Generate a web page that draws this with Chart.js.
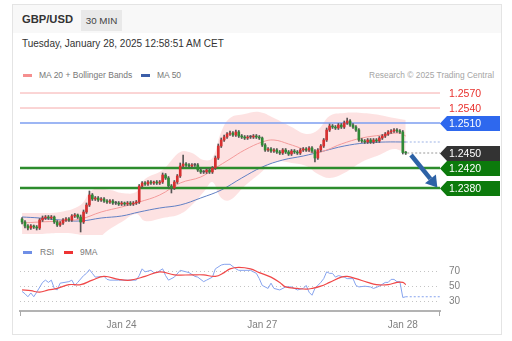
<!DOCTYPE html>
<html>
<head>
<meta charset="utf-8">
<script src="https://cdn.jsdelivr.net/npm/chart.js@4.4.1/dist/chart.umd.min.js"></script>
<style>
  html, body { margin: 0; padding: 0; background: #fff; }
  body { width: 512px; height: 341px; position: relative; overflow: hidden; font-family: "Liberation Sans", Arial, sans-serif; }
  .abs { position: absolute; white-space: nowrap; }
  .card { left: 12px; top: 4px; width: 490px; height: 331px; border: 1px solid #e4e4e4; box-sizing: border-box; }
  .head { left: 13px; top: 5px; width: 488px; height: 28px; background: #f8f8f8; }
  .pair { left: 22px; top: 13px; font-size: 11.2px; line-height: 13px; font-weight: bold; color: #333; }
  .tf { left: 81px; top: 10px; width: 41px; height: 21px; line-height: 21px; background: #e9e9e9; color: #444; font-size: 9.8px; text-align: center; }
  .date { left: 22px; top: 38px; font-size: 10px; line-height: 12px; color: #333; }
  .sw { height: 3px; width: 9px; }
  .lg { font-size: 8.5px; line-height: 11px; color: #777; }
  .src { right: 18px; top: 70px; font-size: 8.4px; line-height: 11px; color: #a5a5a5; }
  canvas { position: absolute; left: 0; top: 0; }
</style>
</head>
<body>
<div class="abs card"></div>
<div class="abs head"></div>
<div class="abs pair">GBP/USD</div>
<div class="abs tf">30 MIN</div>
<div class="abs date">Tuesday, January 28, 2025 12:58:51 AM CET</div>

<div class="abs sw" style="left:23px;top:74px;background:#f58f8f"></div>
<div class="abs lg" style="left:39px;top:70px">MA 20 + Bollinger Bands</div>
<div class="abs sw" style="left:141px;top:74px;background:#3b5ea8"></div>
<div class="abs lg" style="left:157px;top:70px">MA 50</div>
<div class="abs src">Research © 2025 Trading Central</div>

<div class="abs sw" style="left:23px;top:251px;background:#6f8fe6"></div>
<div class="abs lg" style="left:40px;top:247px">RSI</div>
<div class="abs sw" style="left:64px;top:251px;background:#ee3333"></div>
<div class="abs lg" style="left:80px;top:247px">9MA</div>

<canvas id="price" width="512" height="341"></canvas>
<canvas id="rsi" width="512" height="341"></canvas>

<script>
// 30 min candles, index 0 = first bar on the left
const opens = [
  1.2318, 1.2312, 1.2304, 1.2300, 1.2304, 1.2302, 1.2300, 1.2316, 1.2320, 1.2322,
  1.2320, 1.2322, 1.2312, 1.2306, 1.2310, 1.2316, 1.2318, 1.2316, 1.2324, 1.2326,
  1.2322, 1.2312, 1.2332, 1.2346, 1.2366, 1.2358, 1.2360, 1.2356, 1.2358, 1.2354,
  1.2352, 1.2354, 1.2350, 1.2350, 1.2348, 1.2350, 1.2348, 1.2350, 1.2348, 1.2350,
  1.2352, 1.2384, 1.2390, 1.2388, 1.2392, 1.2390, 1.2392, 1.2390, 1.2392, 1.2406,
  1.2400, 1.2384, 1.2380, 1.2392, 1.2404, 1.2424, 1.2428, 1.2426, 1.2424, 1.2426,
  1.2426, 1.2416, 1.2412, 1.2412, 1.2416, 1.2412, 1.2420, 1.2440, 1.2464, 1.2476,
  1.2482, 1.2488, 1.2490, 1.2486, 1.2492, 1.2484, 1.2482, 1.2480, 1.2482, 1.2482,
  1.2484, 1.2482, 1.2480, 1.2466, 1.2456, 1.2458, 1.2454, 1.2456, 1.2452, 1.2450,
  1.2456, 1.2452, 1.2448, 1.2454, 1.2452, 1.2450, 1.2456, 1.2458, 1.2456, 1.2460,
  1.2454, 1.2440, 1.2456, 1.2464, 1.2476, 1.2496, 1.2504, 1.2502, 1.2500, 1.2506,
  1.2502, 1.2510, 1.2514, 1.2506, 1.2502, 1.2496, 1.2476, 1.2474, 1.2472, 1.2476,
  1.2472, 1.2476, 1.2474, 1.2480, 1.2484, 1.2488, 1.2492, 1.2494, 1.2496, 1.2494,
  1.2492, 1.2451
];
const highs = [
  1.2321, 1.2315, 1.2307, 1.2307, 1.2306, 1.2305, 1.2319, 1.2324, 1.2325, 1.2325,
  1.2325, 1.2324, 1.2315, 1.2313, 1.2319, 1.2321, 1.2321, 1.2327, 1.2329, 1.2328,
  1.2326, 1.2336, 1.2350, 1.2374, 1.2369, 1.2363, 1.2363, 1.2361, 1.2361, 1.2357,
  1.2357, 1.2357, 1.2353, 1.2353, 1.2353, 1.2352, 1.2353, 1.2353, 1.2353, 1.2355,
  1.2387, 1.2393, 1.2393, 1.2395, 1.2395, 1.2394, 1.2395, 1.2395, 1.2410, 1.2409,
  1.2403, 1.2387, 1.2395, 1.2407, 1.2430, 1.2446, 1.2431, 1.2429, 1.2429, 1.2429,
  1.2429, 1.2419, 1.2415, 1.2419, 1.2419, 1.2423, 1.2444, 1.2468, 1.2480, 1.2486,
  1.2491, 1.2494, 1.2493, 1.2496, 1.2495, 1.2487, 1.2485, 1.2485, 1.2485, 1.2487,
  1.2487, 1.2485, 1.2482, 1.2469, 1.2461, 1.2461, 1.2459, 1.2459, 1.2455, 1.2459,
  1.2459, 1.2455, 1.2457, 1.2457, 1.2455, 1.2459, 1.2461, 1.2461, 1.2463, 1.2463,
  1.2457, 1.2459, 1.2467, 1.2479, 1.2500, 1.2508, 1.2507, 1.2505, 1.2509, 1.2509,
  1.2514, 1.2520, 1.2517, 1.2509, 1.2505, 1.2499, 1.2479, 1.2477, 1.2479, 1.2479,
  1.2479, 1.2479, 1.2483, 1.2487, 1.2491, 1.2495, 1.2497, 1.2499, 1.2499, 1.2497,
  1.2495, 1.2453
];
const lows = [
  1.2308, 1.2300, 1.2296, 1.2297, 1.2299, 1.2296, 1.2297, 1.2313, 1.2317, 1.2317,
  1.2317, 1.2309, 1.2303, 1.2303, 1.2307, 1.2313, 1.2313, 1.2313, 1.2321, 1.2319,
  1.2292, 1.2309, 1.2329, 1.2343, 1.2355, 1.2355, 1.2353, 1.2353, 1.2351, 1.2349,
  1.2349, 1.2347, 1.2347, 1.2345, 1.2345, 1.2345, 1.2345, 1.2345, 1.2345, 1.2347,
  1.2349, 1.2381, 1.2385, 1.2385, 1.2387, 1.2387, 1.2387, 1.2387, 1.2389, 1.2397,
  1.2381, 1.2370, 1.2377, 1.2389, 1.2401, 1.2421, 1.2423, 1.2421, 1.2421, 1.2423,
  1.2413, 1.2409, 1.2409, 1.2409, 1.2409, 1.2409, 1.2417, 1.2437, 1.2461, 1.2473,
  1.2479, 1.2485, 1.2483, 1.2483, 1.2481, 1.2479, 1.2477, 1.2477, 1.2479, 1.2479,
  1.2479, 1.2477, 1.2463, 1.2453, 1.2453, 1.2451, 1.2451, 1.2449, 1.2447, 1.2447,
  1.2449, 1.2445, 1.2445, 1.2449, 1.2447, 1.2447, 1.2453, 1.2453, 1.2453, 1.2451,
  1.2432, 1.2437, 1.2453, 1.2461, 1.2473, 1.2493, 1.2499, 1.2497, 1.2497, 1.2499,
  1.2499, 1.2507, 1.2503, 1.2499, 1.2493, 1.2473, 1.2471, 1.2469, 1.2469, 1.2469,
  1.2469, 1.2471, 1.2471, 1.2477, 1.2481, 1.2485, 1.2489, 1.2491, 1.2491, 1.2489,
  1.2448, 1.2447
];
const closes = [
  1.2312, 1.2304, 1.2300, 1.2304, 1.2302, 1.2300, 1.2316, 1.2320, 1.2322, 1.2320,
  1.2322, 1.2312, 1.2306, 1.2310, 1.2316, 1.2318, 1.2316, 1.2324, 1.2326, 1.2322,
  1.2312, 1.2332, 1.2346, 1.2366, 1.2358, 1.2360, 1.2356, 1.2358, 1.2354, 1.2352,
  1.2354, 1.2350, 1.2350, 1.2348, 1.2350, 1.2348, 1.2350, 1.2348, 1.2350, 1.2352,
  1.2384, 1.2390, 1.2388, 1.2392, 1.2390, 1.2392, 1.2390, 1.2392, 1.2406, 1.2400,
  1.2384, 1.2380, 1.2392, 1.2404, 1.2424, 1.2428, 1.2426, 1.2424, 1.2426, 1.2426,
  1.2416, 1.2412, 1.2412, 1.2416, 1.2412, 1.2420, 1.2440, 1.2464, 1.2476, 1.2482,
  1.2488, 1.2490, 1.2486, 1.2492, 1.2484, 1.2482, 1.2480, 1.2482, 1.2482, 1.2484,
  1.2482, 1.2480, 1.2466, 1.2456, 1.2458, 1.2454, 1.2456, 1.2452, 1.2450, 1.2456,
  1.2452, 1.2448, 1.2454, 1.2452, 1.2450, 1.2456, 1.2458, 1.2456, 1.2460, 1.2454,
  1.2440, 1.2456, 1.2464, 1.2476, 1.2496, 1.2504, 1.2502, 1.2500, 1.2506, 1.2502,
  1.2510, 1.2514, 1.2506, 1.2502, 1.2496, 1.2476, 1.2474, 1.2472, 1.2476, 1.2472,
  1.2476, 1.2474, 1.2480, 1.2484, 1.2488, 1.2492, 1.2494, 1.2496, 1.2494, 1.2492,
  1.2451, 1.2450
];

// moving averages and bands, read at a few bar positions
const ma20Idx = [0, 6, 13, 20, 27, 34, 40, 47, 54, 61, 66, 71, 76, 82, 86, 91, 96, 100, 104, 109, 116, 123, 129, 131];
const ma20Val = [1.2310, 1.2312, 1.2314, 1.2318, 1.2332, 1.2342, 1.2352, 1.2366, 1.2390, 1.2402, 1.2420, 1.2438,
  1.2456, 1.2472, 1.2476, 1.2468, 1.2458, 1.2450, 1.2456, 1.2468, 1.2480, 1.2486, 1.2490, 1.2484];
const ma50Idx = [0, 6, 13, 20, 27, 34, 40, 47, 54, 61, 68, 75, 82, 89, 96, 103, 110, 117, 124, 131];
const ma50Val = [1.2322, 1.2320, 1.2316, 1.2314, 1.2320, 1.2324, 1.2332, 1.2340, 1.2346, 1.2360, 1.2376, 1.2400,
  1.2422, 1.2436, 1.2444, 1.2454, 1.2464, 1.2470, 1.2472, 1.2472];
const bandIdx = [0, 6, 13, 20, 24, 30, 34, 39, 42, 48, 54, 58, 62, 65, 68, 71, 76, 81, 86, 92, 97, 101, 105, 110, 116, 122, 127, 131];
const bandUpper = [1.2330, 1.2330, 1.2332, 1.2346, 1.2376, 1.2376, 1.2370, 1.2372, 1.2398, 1.2416, 1.2452, 1.2450,
  1.2436, 1.2440, 1.2492, 1.2520, 1.2528, 1.2532, 1.2520, 1.2502, 1.2488, 1.2496, 1.2524, 1.2530, 1.2530, 1.2526, 1.2520, 1.2516];
const bandLower = [1.2288, 1.2288, 1.2290, 1.2286, 1.2274, 1.2298, 1.2312, 1.2328, 1.2314, 1.2320, 1.2328, 1.2346,
  1.2372, 1.2392, 1.2360, 1.2356, 1.2384, 1.2408, 1.2432, 1.2430, 1.2424, 1.2408, 1.2400, 1.2410, 1.2432, 1.2446, 1.2458, 1.2450];
const ma50Last = 1.2472;

// key levels on the right
const levels = [1.2570, 1.2540, 1.2510, 1.2450, 1.2420, 1.2380];
const lastPrice = 1.2450;
// projected move (bar index, price)
const arrowIdx = [132.8, 141.8];
const arrowPrice = [1.2446, 1.2381];

// RSI panel
const rsiIdx = [0, 1, 2, 3, 4, 5, 7, 8, 9, 10, 11, 12, 13, 16, 17, 18, 19, 21, 22, 23, 24, 25, 28, 29, 30, 33, 36, 39, 40, 41, 42,
  44, 45, 46, 48, 49, 50, 52, 54, 56, 57, 59, 60, 62, 63, 65, 66, 68, 69, 71, 73, 74, 78, 80, 81, 82, 84, 85, 86, 88, 90,
  92, 94, 96, 97, 98, 99, 100, 102, 103, 104, 105, 106, 107, 108, 110, 111, 113, 114, 115, 117, 119, 120, 122, 124, 125,
  126, 127, 128, 129, 130, 131];
const rsiVal = [43, 40, 36, 41, 36, 42, 55, 58, 55, 58, 47, 45, 54, 56, 58, 51, 55, 64, 67, 72, 67, 62, 63, 59, 58, 58, 58, 58, 64, 73, 69,
  71, 68, 68, 73, 64, 58, 62, 71, 69, 68, 63, 62, 56, 58, 62, 73, 78, 79, 79, 73, 71, 71, 67, 60, 51, 47, 54, 47, 45, 49,
  49, 45, 47, 51, 42, 38, 47, 55, 60, 69, 67, 67, 62, 64, 62, 60, 60, 51, 49, 50, 49, 47, 50, 55, 55,
  59, 59, 56, 56, 35, 36];
const ma9Idx = [0, 3, 6, 9, 12, 16, 20, 24, 28, 33, 37, 42, 47, 52, 58, 62, 66, 69, 71, 74, 78, 81, 85, 88, 90, 94, 97, 99, 102, 105, 109, 111, 114, 118, 121, 125, 128, 130, 131];
const ma9Val = [45, 44, 42, 45, 47, 52, 52, 58, 63, 59, 58, 63, 69, 65, 65, 65, 63, 68, 73, 75, 73, 68, 62, 55, 49, 47, 46, 47, 50, 55, 62, 63, 60, 55, 52, 52, 55, 55, 52];
const rsiLast = 36;
const rsiTicks = [30, 50, 70];

const dayTickIdx = [34, 82, 130];
const dayLabels = ["Jan 24", "Jan 27", "Jan 28"];

const X_MIN = -0.7, X_MAX = 142.7;

Chart.defaults.font.family = '"Liberation Sans", Arial, sans-serif';
Chart.defaults.animation = false;
Chart.defaults.events = [];
Chart.defaults.plugins.legend.display = false;
Chart.defaults.plugins.tooltip.enabled = false;

const pts = (idx, val) => idx.map((x, i) => ({ x, y: val[i] }));

const candles = closes.map((c, i) => ({ x: i, o: opens[i], c, y: [opens[i], c] }));
const wicks = closes.map((c, i) => ({ x: i, y: [lows[i], highs[i]] }));

const UP = "#d83030", DOWN = "#2f8a35";

const levelLine = [
  { color: "#f6aaaa", width: 1 },
  { color: "#f6aaaa", width: 1 },
  { color: "#7d9ef0", width: 1.5 },
  null,
  { color: "#2c8c2c", width: 2.5 },
  { color: "#2c8c2c", width: 2.5 }
];
const levelTag = [
  { text: "#e8302c" },
  { text: "#e8302c" },
  { box: "#2e68ee" },
  { box: "#333333" },
  { box: "#0c7a0c" },
  { box: "#0c7a0c" }
];

const levelSets = [];
levels.forEach((lv, i) => {
  if (!levelLine[i]) return;
  levelSets.push({
    type: "line", data: [{ x: X_MIN, y: lv }, { x: X_MAX, y: lv }],
    borderColor: levelLine[i].color, borderWidth: levelLine[i].width,
    pointRadius: 0, order: 6
  });
});

// tags on the right edge + forecast arrow
const overlay = {
  id: "overlay",
  afterDatasetsDraw(chart) {
    const { ctx, chartArea, scales } = chart;
    const x0 = chartArea.right;
    ctx.save();
    ctx.font = '10.5px "Liberation Sans", Arial, sans-serif';
    ctx.textBaseline = "middle";
    levels.forEach((lv, i) => {
      const y = Math.round(scales.y.getPixelForValue(lv)) + 0.5;
      const t = levelTag[i];
      if (t.box) {
        ctx.fillStyle = t.box;
        ctx.beginPath();
        ctx.moveTo(x0, y);
        ctx.lineTo(x0 + 7, y - 7.5);
        ctx.lineTo(x0 + 60, y - 7.5);
        ctx.lineTo(x0 + 60, y + 7.5);
        ctx.lineTo(x0 + 7, y + 7.5);
        ctx.closePath();
        ctx.fill();
        ctx.fillStyle = "#fff";
      } else {
        ctx.fillStyle = t.text;
      }
      ctx.fillText(lv.toFixed(4), x0 + 9, y + 0.5);
    });

    // arrow
    const ax = arrowIdx.map(v => scales.x.getPixelForValue(v));
    const ay = arrowPrice.map(v => scales.y.getPixelForValue(v));
    const ang = Math.atan2(ay[1] - ay[0], ax[1] - ax[0]);
    const hl = 11, hw = 7;
    const bx = ax[1] - hl * Math.cos(ang), by = ay[1] - hl * Math.sin(ang);
    ctx.strokeStyle = "#2d62a6";
    ctx.fillStyle = "#2d62a6";
    ctx.lineWidth = 4.5;
    ctx.lineCap = "butt";
    ctx.beginPath();
    ctx.moveTo(ax[0], ay[0]);
    ctx.lineTo(bx, by);
    ctx.stroke();
    ctx.beginPath();
    ctx.moveTo(ax[1], ay[1]);
    ctx.lineTo(bx + hw * Math.sin(ang), by - hw * Math.cos(ang));
    ctx.lineTo(bx - hw * Math.sin(ang), by + hw * Math.cos(ang));
    ctx.closePath();
    ctx.fill();
    ctx.restore();
  }
};

new Chart(document.getElementById("price"), {
  type: "bar",
  data: {
    datasets: [
      { type: "line", data: pts(bandIdx, bandUpper), borderWidth: 0, pointRadius: 0, tension: 0.4, order: 10, fill: false },
      { type: "line", data: pts(bandIdx, bandLower), borderWidth: 0, pointRadius: 0, tension: 0.4, order: 10,
        fill: "-1", backgroundColor: "rgba(248,160,160,0.3)" },
      { type: "line", data: pts(ma20Idx, ma20Val), borderColor: "#f39a9a", borderWidth: 1, pointRadius: 0, tension: 0.4, order: 8 },
      { type: "line", data: pts(ma50Idx, ma50Val), borderColor: "#6180c4", borderWidth: 1, pointRadius: 0, tension: 0.4, order: 8 },
      { type: "line", data: [{ x: 131, y: ma50Last }, { x: X_MAX, y: ma50Last }], borderColor: "#9db3e6",
        borderWidth: 1, borderDash: [2, 2], pointRadius: 0, order: 8 },
      { type: "line", data: [{ x: 131.5, y: lastPrice }, { x: X_MAX, y: lastPrice }], borderColor: "#999",
        borderWidth: 1, borderDash: [2, 2], pointRadius: 0, order: 8 },
      ...levelSets,
      { data: wicks, backgroundColor: "#555", barThickness: 1, grouped: false, order: 2 },
      { data: candles, barThickness: 2, minBarLength: 1, grouped: false, order: 1,
        backgroundColor: ctx => {
          const d = ctx.raw;
          if (!d) return "#555";
          return d.c > d.o ? UP : d.c < d.o ? DOWN : "#555";
        } }
    ]
  },
  options: {
    responsive: false,
    devicePixelRatio: 1,
    layout: { padding: { left: 20, right: 72, top: 85, bottom: 106 } },
    scales: {
      x: { type: "linear", min: X_MIN, max: X_MAX, offset: false, display: false },
      y: { min: 1.2286, max: 1.2586, display: false }
    }
  },
  plugins: [overlay]
});

// little end ticks under the time axis
const endTicks = {
  id: "endTicks",
  afterDraw(chart) {
    const { ctx, chartArea } = chart;
    ctx.save();
    ctx.strokeStyle = "#aaa";
    ctx.lineWidth = 1;
    [chartArea.left + 0.5, chartArea.right - 0.5].forEach(x => {
      ctx.beginPath();
      ctx.moveTo(x, chartArea.bottom);
      ctx.lineTo(x, chartArea.bottom + 5);
      ctx.stroke();
    });
    ctx.restore();
  }
};

new Chart(document.getElementById("rsi"), {
  type: "line",
  data: {
    datasets: [
      { data: pts(ma9Idx, ma9Val), borderColor: "#f04848", borderWidth: 1.2, pointRadius: 0, tension: 0.4 },
      { data: pts(rsiIdx, rsiVal), borderColor: "#86a3ee", borderWidth: 1, pointRadius: 0, tension: 0 },
      { data: [{ x: 131, y: rsiLast }, { x: X_MAX, y: rsiLast }], borderColor: "#86a3ee", borderWidth: 1,
        borderDash: [2, 2], pointRadius: 0 }
    ]
  },
  options: {
    responsive: false,
    devicePixelRatio: 1,
    layout: { padding: { left: 20, right: 12, top: 256, bottom: 0 } },
    scales: {
      x: {
        type: "linear", min: X_MIN, max: X_MAX,
        grid: { display: false },
        border: { color: "#b3b3b3", width: 2 },
        afterBuildTicks: s => { s.ticks = dayTickIdx.map(v => ({ value: v })); },
        afterFit: s => { s.height = 30; },
        ticks: { color: "#808080", font: { size: 10 }, padding: 0, maxRotation: 0,
          callback: v => dayLabels[dayTickIdx.indexOf(v)] }
      },
      y: {
        position: "right", min: 17.1, max: 90,
        grid: { color: "#c4c4c4", drawTicks: false },
        border: { display: false, dash: [1, 3] },
        afterBuildTicks: s => { s.ticks = rsiTicks.map(v => ({ value: v })); },
        afterFit: s => { s.width = 60; },
        ticks: { color: "#808080", font: { size: 10 }, padding: 9 }
      }
    }
  },
  plugins: [endTicks]
});
</script>
</body>
</html>
